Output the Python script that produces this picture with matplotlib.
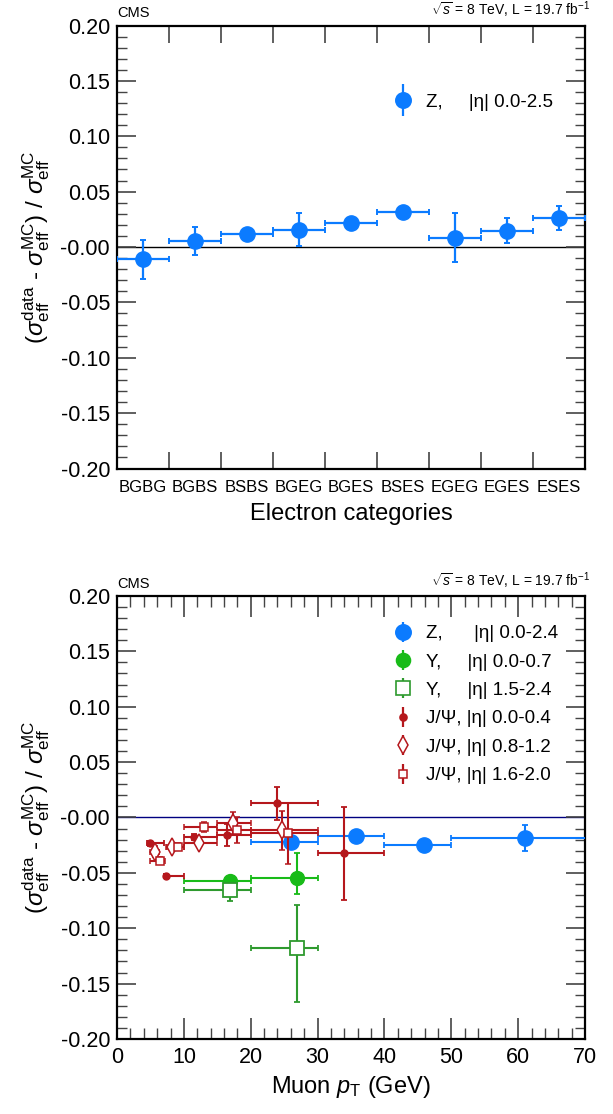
import matplotlib
matplotlib.use("Agg")
import matplotlib.pyplot as plt
from matplotlib.lines import Line2D
from matplotlib.legend_handler import HandlerTuple
from matplotlib.ticker import MultipleLocator

plt.rcParams['font.family'] = ['Liberation Sans', 'DejaVu Sans']
plt.rcParams['mathtext.fontset'] = 'custom'
plt.rcParams['mathtext.rm'] = 'Liberation Sans'
plt.rcParams['mathtext.it'] = 'Liberation Sans:italic'
plt.rcParams['mathtext.sf'] = 'Liberation Sans'

# ---- data: electron categories (top) ----
categories = ["BGBG", "BGBS", "BSBS", "BGEG", "BGES", "BSES", "EGEG", "EGES", "ESES"]
ele_val = [-0.011, 0.0054, 0.0117, 0.0158, 0.0216, 0.0317, 0.0086, 0.0149, 0.0263]
ele_err = [0.0175, 0.013, 0.003, 0.015, 0.003, 0.003, 0.0225, 0.011, 0.0105]

# ---- data: muons (bottom) ----
z_pt = [26.0, 35.8, 45.9, 61.0]
z_lo = [20, 30, 40, 50]
z_hi = [30, 40, 50, 80]
z_val = [-0.0226, -0.0169, -0.025, -0.0187]
z_err = [0.003, 0.003, 0.003, 0.0115]

y1_pt = [16.9, 26.9]
y1_lo = [10, 20]
y1_hi = [20, 30]
y1_val = [-0.0575, -0.055]
y1_eup = [0.003, 0.023]
y1_edn = [0.003, 0.014]

y2_pt = [16.9, 26.9]
y2_lo = [10, 20]
y2_hi = [20, 30]
y2_val = [-0.0656, -0.1177]
y2_eup = [0.0097, 0.0386]
y2_edn = [0.0097, 0.049]

j1_pt = [4.9, 7.4, 11.5, 16.5, 24.0, 34.0]
j1_lo = [4.5, 7.0, 10, 15, 20, 30]
j1_hi = [7.0, 10, 15, 20, 30, 40]
j1_val = [-0.0235, -0.053, -0.0175, -0.016, 0.0126, -0.0325]
j1_err = [0.002, 0.002, 0.003, 0.010, 0.0145, 0.042]

j2_pt = [5.7, 8.2, 12.3, 17.3, 24.7]
j2_lo = [5.0, 7.3, 10, 15, 20]
j2_hi = [6.3, 10, 15, 20, 30]
j2_val = [-0.031, -0.0265, -0.0235, -0.0049, -0.0115]
j2_err = [0.0048, 0.003, 0.003, 0.0097, 0.0177]

j3_pt = [6.5, 9.1, 13.0, 18.0, 25.5]
j3_lo = [5.0, 7.5, 10, 15, 20]
j3_hi = [7.2, 10, 15, 20, 30]
j3_val = [-0.039, -0.0265, -0.0085, -0.0115, -0.0144]
j3_err = [0.003, 0.003, 0.0045, 0.0116, 0.0275]

ytick_vals = [-0.20, -0.15, -0.10, -0.05, 0.0, 0.05, 0.10, 0.15, 0.20]
ytick_labels = ["-0.20", "-0.15", "-0.10", "-0.05", "-0.00", "0.05", "0.10", "0.15", "0.20"]

BLUE = "#0b7bff"
GREEN = "#18bb18"
DGREEN = "#2e9a2e"
RED = "#b5171c"
TICKC = "#444444"

ylabel = (r"$(\sigma_{\rm eff}^{\rm data}$ - $\sigma_{\rm eff}^{\rm MC})$ / "
          r"$\sigma_{\rm eff}^{\rm MC}$")


def xerrs(pt, lo, hi):
    return [[p - l for p, l in zip(pt, lo)], [h - p for p, h in zip(pt, hi)]]


def style_axes(ax):
    for s in ax.spines.values():
        s.set_linewidth(1.6)
    ax.set_ylim(-0.2, 0.2)
    ax.set_yticks(ytick_vals)
    ax.set_yticklabels(ytick_labels)
    ax.yaxis.set_minor_locator(MultipleLocator(0.01))
    ax.tick_params(axis='y', which='major', direction='in', length=14, width=1.2,
                   color=TICKC, left=True, right=True, labelsize=15.5, pad=5)
    ax.tick_params(axis='y', which='minor', direction='in', length=7, width=1.0,
                   color=TICKC, left=True, right=True)
    ax.set_ylabel(ylabel, fontsize=17.5, labelpad=6)


def header(ax):
    ax.text(0.0, 1.012, "CMS", transform=ax.transAxes, fontsize=10.5,
            ha='left', va='bottom')
    ax.text(1.01, 1.012, r"$\sqrt{s}$ = 8 TeV, L = 19.7 fb$^{-1}$",
            transform=ax.transAxes, fontsize=10, ha='right', va='bottom')


def leg_handle(color, marker, ms, mfc, mew=1.2, barlen=14):
    bar = Line2D([], [], color=color, marker='|', markersize=barlen, markeredgewidth=1.6,
                 linestyle='')
    mk = Line2D([], [], color=color, marker=marker, markersize=ms, markerfacecolor=mfc,
                markeredgecolor=color, markeredgewidth=mew, linestyle='')
    return (bar, mk)


hmap = {tuple: HandlerTuple(ndivide=1, pad=0)}

fig = plt.figure(figsize=(6.13, 11.14), dpi=100)

# ---------------- top panel ----------------
ax1 = fig.add_axes([0.1909, 0.5794, 0.7635, 0.3977])
xpos = list(range(len(categories)))
ax1.axhline(0.0, color='black', linewidth=1.0, zorder=1)
ax1.errorbar(xpos, ele_val, xerr=0.5, yerr=ele_err, fmt='o', color=BLUE,
             markersize=11, elinewidth=1.6, capsize=2, capthick=1.4, zorder=3)
ax1.set_xlim(-0.5, len(categories) - 0.5)
ax1.set_xticks([i - 0.5 for i in range(len(categories) + 1)])
ax1.set_xticklabels([])
ax1.set_xticks(xpos, minor=True)
ax1.set_xticklabels(categories, minor=True)
ax1.tick_params(axis='x', which='major', direction='in', length=12, width=1.2,
                color=TICKC, top=True, bottom=True)
ax1.tick_params(axis='x', which='minor', length=0, labelsize=12, pad=8)
style_axes(ax1)
ax1.set_xlabel("Electron categories", fontsize=17, labelpad=6)
header(ax1)
ax1.legend([leg_handle(BLUE, 'o', 11, BLUE, barlen=23)], ["Z,     |η| 0.0-2.5"],
           loc='center left', bbox_to_anchor=(0.552, 0.827), frameon=False,
           fontsize=13.5, handlelength=1.2, handletextpad=0.6, handler_map=hmap)

# ---------------- bottom panel ----------------
ax2 = fig.add_axes([0.1909, 0.0673, 0.7635, 0.3978])
ax2.axhline(0.0, color='#000080', linewidth=1.0, zorder=1)
ekw = dict(elinewidth=1.5, capsize=2, capthick=1.3, linestyle='none')
ax2.errorbar(z_pt, z_val, xerr=xerrs(z_pt, z_lo, z_hi), yerr=z_err, marker='o',
             color=BLUE, markersize=11, zorder=3, **ekw)
ax2.errorbar(y1_pt, y1_val, xerr=xerrs(y1_pt, y1_lo, y1_hi), yerr=[y1_edn, y1_eup],
             marker='o', color=GREEN, markersize=10, zorder=3, **ekw)
ax2.errorbar(y2_pt, y2_val, xerr=xerrs(y2_pt, y2_lo, y2_hi), yerr=[y2_edn, y2_eup],
             marker='s', color=DGREEN, markersize=9.5, markerfacecolor='white',
             markeredgewidth=1.3, zorder=3, **ekw)
ax2.errorbar(j1_pt, j1_val, xerr=xerrs(j1_pt, j1_lo, j1_hi), yerr=j1_err, marker='o',
             color=RED, markersize=5, zorder=4, **ekw)
ax2.errorbar(j2_pt, j2_val, xerr=xerrs(j2_pt, j2_lo, j2_hi), yerr=j2_err, marker='d',
             color=RED, markersize=9, markerfacecolor='white', markeredgewidth=1.1,
             zorder=4, **ekw)
ax2.errorbar(j3_pt, j3_val, xerr=xerrs(j3_pt, j3_lo, j3_hi), yerr=j3_err, marker='s',
             color=RED, markersize=6, markerfacecolor='white', markeredgewidth=1.1,
             zorder=4, **ekw)
ax2.set_xlim(0, 70)
ax2.xaxis.set_major_locator(MultipleLocator(10))
ax2.xaxis.set_minor_locator(MultipleLocator(2))
ax2.tick_params(axis='x', which='major', direction='in', length=15, width=1.2,
                color=TICKC, top=True, bottom=True, labelsize=15.5, pad=6)
ax2.tick_params(axis='x', which='minor', direction='in', length=8, width=1.0,
                color=TICKC, top=True, bottom=True)
style_axes(ax2)
ax2.set_xlabel(r"Muon $p_{\rm T}$ (GeV)", fontsize=17, labelpad=4)
header(ax2)

handles = [leg_handle(BLUE, 'o', 11, BLUE),
           leg_handle(GREEN, 'o', 10, GREEN),
           leg_handle(DGREEN, 's', 9.5, 'white'),
           leg_handle(RED, 'o', 5, RED),
           leg_handle(RED, 'd', 9, 'white', 1.1),
           leg_handle(RED, 's', 6, 'white', 1.1)]
labels = ["Z,      |η| 0.0-2.4",
          "Υ,     |η| 0.0-0.7",
          "Υ,     |η| 1.5-2.4",
          "J/Ψ, |η| 0.0-0.4",
          "J/Ψ, |η| 0.8-1.2",
          "J/Ψ, |η| 1.6-2.0"]
ax2.legend(handles, labels, loc='upper left', bbox_to_anchor=(0.5515, 0.972),
           frameon=False, fontsize=13.5, handlelength=1.2, handletextpad=0.6,
           labelspacing=0.6, handler_map=hmap)

fig.savefig("out.png", dpi=100)
